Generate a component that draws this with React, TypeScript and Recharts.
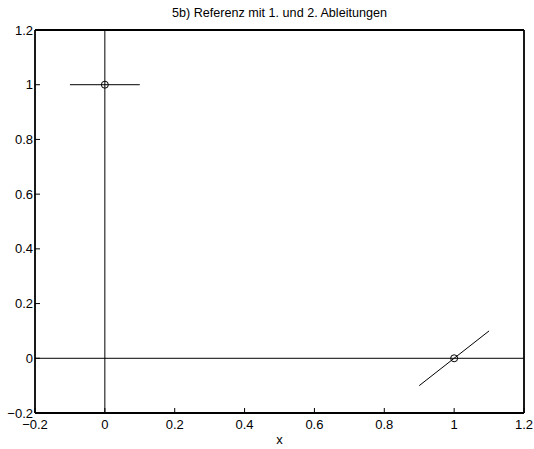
import { ComposedChart, Line, XAxis, YAxis } from "recharts";

const xTicks = [-0.2, 0, 0.2, 0.4, 0.6, 0.8, 1, 1.2];
const yTicks = [-0.2, 0, 0.2, 0.4, 0.6, 0.8, 1, 1.2];

const verticalLine = [{ x: 0, y: -0.2 }, { x: 0, y: 1.2 }];
const horizontalLine = [{ x: -0.2, y: 0 }, { x: 1.2, y: 0 }];
const firstDerivative = [{ x: -0.1, y: 1 }, { x: 0.1, y: 1 }];
const secondDerivative = [{ x: 0.9, y: -0.1 }, { x: 1.1, y: 0.1 }];
const refPoints = [{ x: 0, y: 1 }, { x: 1, y: 0 }];

const font = '"Liberation Sans", Arial, Helvetica, sans-serif';
const fmt = (v: number) => String(v).replace("-", "\u2212");

function BottomTick({ x, y, payload }: any) {
  return (
    <g>
      <line x1={x} x2={x} y1={y} y2={y - 5} stroke="#000" />
      <text x={x} y={y + 15.5} textAnchor="middle" fontSize={13} fill="#000" fontFamily={font}>{fmt(payload.value)}</text>
    </g>
  );
}

function LeftTick({ x, y, payload }: any) {
  return (
    <g>
      <line x1={x} x2={x + 5} y1={y} y2={y} stroke="#000" />
      <text x={x - 2} y={y + 4.5} textAnchor="end" fontSize={13} fill="#000" fontFamily={font}>{fmt(payload.value)}</text>
    </g>
  );
}

function TopTick({ x, y }: any) {
  return <line x1={x} x2={x} y1={y} y2={y + 5} stroke="#000" />;
}

function RightTick({ x, y }: any) {
  return <line x1={x} x2={x - 5} y1={y} y2={y} stroke="#000" />;
}

export default function App() {
  const axisLine = { stroke: "#000", strokeWidth: 1.8 };
  return (
    <div style={{ position: "absolute", left: 0, top: 0, width: 534, height: 449, background: "#fff", fontFamily: font }}>
      <div style={{ position: "absolute", top: 7, left: 35, width: 489, textAlign: "center", fontSize: 12.6, lineHeight: 1 }}>
        5b) Referenz mit 1. und 2. Ableitungen
      </div>
      <ComposedChart width={534} height={449} margin={{ top: 29, right: 9, bottom: 35, left: 34 }}>
        <XAxis dataKey="x" type="number" domain={[-0.2, 1.2]} ticks={xTicks} interval={0} height={1}
          tickSize={0} tickMargin={0} tick={<BottomTick />} tickLine={false} axisLine={axisLine} />
        <XAxis xAxisId="top" orientation="top" dataKey="x" type="number" domain={[-0.2, 1.2]} ticks={xTicks} interval={0}
          height={1} tickSize={0} tickMargin={0} tick={<TopTick />} tickLine={false} axisLine={axisLine} />
        <YAxis dataKey="y" type="number" domain={[-0.2, 1.2]} ticks={yTicks} interval={0} width={1}
          tickSize={0} tickMargin={0} tick={<LeftTick />} tickLine={false} axisLine={axisLine} />
        <YAxis yAxisId="right" orientation="right" dataKey="y" type="number" domain={[-0.2, 1.2]} ticks={yTicks} interval={0}
          width={1} tickSize={0} tickMargin={0} tick={<RightTick />} tickLine={false} axisLine={axisLine} />
        <Line data={verticalLine} dataKey="y" stroke="#000" strokeWidth={1} dot={false} isAnimationActive={false} />
        <Line data={horizontalLine} dataKey="y" stroke="#000" strokeWidth={1} dot={false} isAnimationActive={false} />
        <Line data={firstDerivative} dataKey="y" stroke="#000" strokeWidth={1} dot={false} isAnimationActive={false} />
        <Line data={secondDerivative} dataKey="y" stroke="#000" strokeWidth={1} dot={false} isAnimationActive={false} />
        <Line data={refPoints} dataKey="y" stroke="none" dot={{ r: 3.5, fill: "none", stroke: "#000", strokeWidth: 1 }}
          activeDot={false} isAnimationActive={false} />
      </ComposedChart>
      <div style={{ position: "absolute", top: 433, left: 35, width: 489, textAlign: "center", fontSize: 13, lineHeight: 1 }}>x</div>
    </div>
  );
}
